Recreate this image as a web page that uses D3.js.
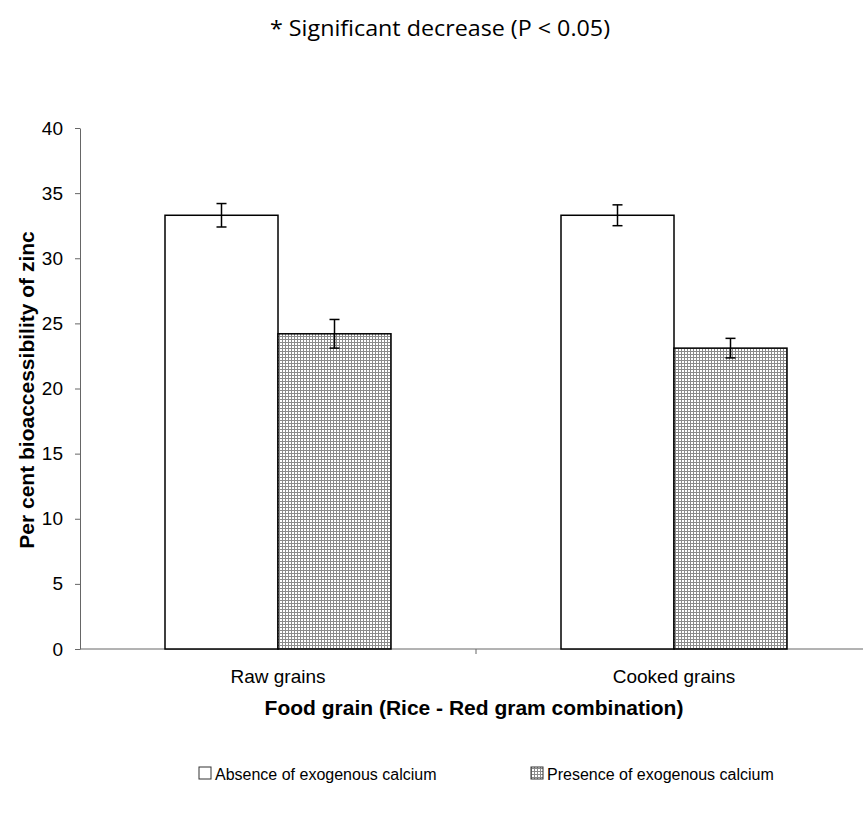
<!DOCTYPE html>
<meta charset="utf-8">
<style>
body { margin: 0; background: #fff; }
text { font-family: "Liberation Sans", Arial, sans-serif; }
</style>
<svg width="863" height="814"></svg>
<script src="https://cdn.jsdelivr.net/npm/d3@7"></script>
<script>

// data
var categories = ["Raw grains", "Cooked grains"];
var series = ["Absence of exogenous calcium", "Presence of exogenous calcium"];
var absence_values = [33.3, 33.3];
var absence_errors = [0.9, 0.8];
var presence_values = [24.2, 23.1];
var presence_errors = [1.1, 0.75];
var y_ticks = [0, 5, 10, 15, 20, 25, 30, 35, 40];

var svg = d3.select("svg");

var plot_left = 80, plot_right = 872, plot_top = 128, plot_bottom = 649;

// hatch pattern for the calcium bars
var defs = svg.append("defs");
var pat = defs.append("pattern")
    .attr("id", "grid")
    .attr("patternUnits", "userSpaceOnUse")
    .attr("width", 3)
    .attr("height", 3);
pat.append("rect").attr("width", 3).attr("height", 3).style("fill", "#fff");
pat.append("path")
    .attr("d", "M0,0.5H3M0.5,0V3")
    .style("stroke", "#8a8a8a")
    .style("stroke-width", 1);

var x = d3.scaleBand().domain(categories).range([plot_left, plot_right]);
var y = d3.scaleLinear().domain([0, 40]).range([plot_bottom, plot_top]);
var bar_w = 113;

// title
svg.append("text")
   .attr("x", 440)
   .attr("y", 36)
   .attr("text-anchor", "middle")
   .attr("textLength", 340)
   .attr("lengthAdjust", "spacingAndGlyphs")
   .style("font-family", "'Open Sans', sans-serif")
   .style("font-size", 22)
   .text("* Significant decrease (P < 0.05)");

// y axis
var yAxis = svg.append("g")
    .attr("transform", "translate(" + plot_left + ",0)")
    .call(d3.axisLeft(y).tickValues(y_ticks).tickSize(5).tickSizeOuter(0));
yAxis.select(".domain").style("stroke", "#666");
yAxis.selectAll(".tick line").style("stroke", "#666");
yAxis.selectAll(".tick text").style("font-size", 19).style("fill", "#000").attr("x", -17);

// x axis
svg.append("line")
   .attr("x1", plot_left).attr("x2", plot_right)
   .attr("y1", plot_bottom).attr("y2", plot_bottom)
   .style("stroke", "#666");
svg.append("line")
   .attr("x1", x(categories[1])).attr("x2", x(categories[1]))
   .attr("y1", plot_bottom).attr("y2", plot_bottom + 5)
   .style("stroke", "#666");

function drawBars(vals, errs, fill, offset) {
  svg.selectAll(null)
     .data(vals)
     .enter().append("rect")
     .attr("x", function(d, i) { return x(categories[i]) + x.bandwidth()/2 + offset; })
     .attr("y", function(d) { return y(d); })
     .attr("width", bar_w)
     .attr("height", function(d) { return plot_bottom - y(d); })
     .style("fill", fill)
     .style("stroke", "#000")
     .style("stroke-width", 1.5);

  vals.forEach(function(v, i) {
    var cx = x(categories[i]) + x.bandwidth()/2 + offset + bar_w/2;
    var e = errs[i];
    svg.append("line")
       .attr("x1", cx).attr("x2", cx)
       .attr("y1", y(v + e)).attr("y2", y(v - e))
       .style("stroke", "#000").style("stroke-width", 1.5);
    [v + e, v - e].forEach(function(t) {
      svg.append("line")
         .attr("x1", cx - 5).attr("x2", cx + 5)
         .attr("y1", y(t)).attr("y2", y(t))
         .style("stroke", "#000").style("stroke-width", 1.5);
    });
  });
}

drawBars(absence_values, absence_errors, "#fff", -bar_w);
drawBars(presence_values, presence_errors, "url(#grid)", 0);

// category labels
categories.forEach(function(c) {
  svg.append("text")
     .attr("x", x(c) + x.bandwidth()/2)
     .attr("y", 683)
     .attr("text-anchor", "middle")
     .style("font-size", 19)
     .text(c);
});

// axis titles
svg.append("text")
   .attr("x", 474)
   .attr("y", 715)
   .attr("text-anchor", "middle")
   .style("font-size", 21)
   .style("font-weight", "bold")
   .text("Food grain (Rice - Red gram combination)");

svg.append("text")
   .attr("transform", "translate(34,390) rotate(-90)")
   .attr("text-anchor", "middle")
   .style("font-size", 21)
   .style("font-weight", "bold")
   .text("Per cent bioaccessibility of zinc");

// legend
var legend_x = [199, 531];
var fills = ["#fff", "url(#grid)"];
series.forEach(function(s, i) {
  svg.append("rect")
     .attr("x", legend_x[i]).attr("y", 767)
     .attr("width", 12).attr("height", 12)
     .style("fill", fills[i])
     .style("stroke", "#333")
     .style("stroke-width", 1);
  svg.append("text")
     .attr("x", legend_x[i] + 16)
     .attr("y", 780)
     .style("font-size", 16)
     .text(s);
});

</script>
